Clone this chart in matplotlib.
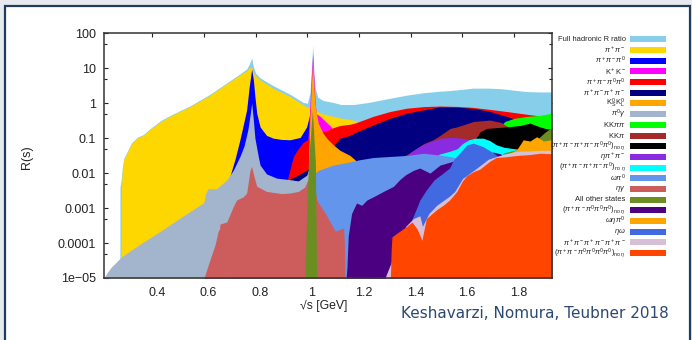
import matplotlib
matplotlib.use('Agg')
import matplotlib.pyplot as plt
from matplotlib.patches import Rectangle
from matplotlib.ticker import LogLocator, NullFormatter
from matplotlib.transforms import ScaledTranslation

plt.rcParams['font.family'] = ['Liberation Sans', 'DejaVu Sans']
plt.rcParams['mathtext.fontset'] = 'custom'
plt.rcParams['mathtext.rm'] = 'Liberation Sans'
plt.rcParams['mathtext.it'] = 'Liberation Sans:italic'
plt.rcParams['mathtext.bf'] = 'Liberation Sans:bold'

# upper edge of each stacked channel (sqrt(s) in GeV, R)
full_x = [0.2745, 0.275, 0.279, 0.281, 0.284, 0.29, 0.30, 0.31, 0.32, 0.345, 0.364, 0.40, 0.436, 0.475,
          0.546, 0.623, 0.688, 0.739, 0.765, 0.775, 0.7845, 0.791, 0.80, 0.817, 0.867, 0.933, 0.984,
          1.00, 1.01, 1.015, 1.0205, 1.025, 1.03, 1.04, 1.06, 1.10, 1.13, 1.18, 1.236, 1.30, 1.384,
          1.45, 1.51, 1.55, 1.60, 1.64, 1.70, 1.75, 1.80, 1.85, 1.90, 1.945]
full_R = [1e-5, 0.004, 0.006, 0.008, 0.014, 0.027, 0.037, 0.053, 0.074, 0.11, 0.125, 0.21, 0.33, 0.47,
          0.84, 1.8, 3.8, 6.9, 9.5, 13, 19.5, 11, 7.2, 5.3, 3.2, 1.8, 1.05,
          1.0, 2.0, 8, 46, 8, 2.8, 1.5, 1.2, 1.05, 0.92, 0.92, 1.05, 1.3, 1.7,
          2.0, 2.2, 2.3, 2.5, 2.7, 2.7, 2.6, 2.35, 2.15, 2.1, 2.1]

pipi_x = [0.279, 0.2795, 0.281, 0.284, 0.29, 0.30, 0.31, 0.32, 0.345, 0.364, 0.40, 0.436, 0.475, 0.546,
          0.623, 0.688, 0.739, 0.765, 0.778, 0.7845, 0.791, 0.797, 0.817, 0.867, 0.933, 0.984, 1.002,
          1.015, 1.0205, 1.025, 1.036, 1.05, 1.10, 1.126, 1.177, 1.19, 1.20, 1.22]
pipi_R = [1e-5, 0.0005, 0.004, 0.013, 0.025, 0.035, 0.05, 0.07, 0.105, 0.12, 0.2, 0.31, 0.45, 0.8,
          1.7, 3.6, 6.5, 8.5, 10.5, 10.5, 8, 6.4, 4.6, 2.7, 1.55, 0.89, 0.75,
          0.9, 1.0, 0.8, 0.6, 0.52, 0.42, 0.38, 0.33, 0.29, 0.2, 0.05]

pi3_x = [0.60, 0.68, 0.70, 0.72, 0.739, 0.755, 0.765, 0.775, 0.7845, 0.791, 0.797, 0.804, 0.817, 0.842,
         0.868, 0.90, 0.933, 0.972, 0.997, 1.01, 1.0205, 1.03, 1.04, 1.06, 1.08]
pi3_R = [1e-5, 0.003, 0.008, 0.025, 0.09, 0.3, 0.65, 3.0, 9.5, 4.6, 1.55, 0.52, 0.21, 0.12,
         0.10, 0.092, 0.09, 0.105, 0.21, 0.5, 2.0, 0.3, 0.15, 0.08, 0.03]

kk_x = [0.988, 1.0, 1.008, 1.014, 1.0205, 1.026, 1.03, 1.035, 1.05, 1.07, 1.09, 1.10, 1.13, 1.15]
kk_R = [1e-5, 0.05, 0.5, 4, 27, 4, 1.0, 0.5, 0.42, 0.3, 0.22, 0.17, 0.1, 0.05]

pp00_x = [0.60, 0.85, 0.90, 0.915, 0.92, 0.933, 0.946, 0.96, 0.983, 1.01, 1.05, 1.075, 1.10, 1.126,
          1.165, 1.19, 1.254, 1.32, 1.384, 1.45, 1.51, 1.58, 1.64, 1.71, 1.77, 1.87, 1.945]
pp00_R = [1e-5, 0.0015, 0.003, 0.0042, 0.0055, 0.013, 0.03, 0.045, 0.075, 0.1, 0.14, 0.165, 0.2, 0.23,
          0.25, 0.28, 0.42, 0.58, 0.72, 0.8, 0.83, 0.81, 0.76, 0.66, 0.58, 0.46, 0.4]

pppp_x = [0.70, 0.90, 0.92, 0.933, 0.96, 0.997, 1.03, 1.07, 1.10, 1.126, 1.165, 1.19, 1.255, 1.32,
          1.384, 1.447, 1.51, 1.58, 1.642, 1.706, 1.771, 1.83, 1.945]
pppp_R = [1e-5, 0.003, 0.004, 0.0068, 0.0085, 0.012, 0.02, 0.035, 0.06, 0.1, 0.12, 0.15, 0.24, 0.37,
          0.52, 0.64, 0.78, 0.77, 0.71, 0.58, 0.42, 0.3, 0.2]

kskl_x = [0.995, 1.005, 1.010, 1.015, 1.0205, 1.025, 1.028, 1.032, 1.042, 1.06, 1.08, 1.10, 1.126,
          1.165, 1.19, 1.22, 1.25]
kskl_R = [1e-5, 0.03, 0.4, 3, 15.5, 3, 1.2, 0.7, 0.27, 0.14, 0.09, 0.065, 0.045,
          0.032, 0.022, 0.015, 0.01]

pi0g_x = [0.2132, 0.225, 0.24, 0.26, 0.28, 0.35, 0.44, 0.52, 0.597, 0.601, 0.605, 0.616, 0.649, 0.688,
          0.713, 0.739, 0.755, 0.77, 0.778, 0.7845, 0.79, 0.797, 0.81, 0.817, 0.842, 0.881, 0.933,
          0.965, 0.997, 1.01, 1.02, 1.03, 1.05]
pi0g_R = [1e-5, 1.4e-5, 2e-5, 2.8e-5, 4e-5, 9e-5, 2.4e-4, 6e-4, 0.0014, 0.0016, 0.0025, 0.0036, 0.0036, 0.0064,
          0.012, 0.03, 0.06, 0.18, 0.45, 1.0, 0.4, 0.1, 0.03, 0.017, 0.0095, 0.0072, 0.0065,
          0.006, 0.0087, 0.016, 0.04, 0.01, 1e-5]

kkpipi_x = [1.60, 1.70, 1.74, 1.764, 1.80, 1.85, 1.90, 1.945]
kkpipi_R = [0.01, 0.1, 0.2, 0.3, 0.37, 0.42, 0.45, 0.52]

kkpi_x = [1.30, 1.40, 1.45, 1.486, 1.513, 1.552, 1.578, 1.61, 1.642, 1.706, 1.75, 1.78, 1.85, 1.945]
kkpi_R = [0.015, 0.04, 0.07, 0.09, 0.12, 0.19, 0.21, 0.25, 0.3, 0.33, 0.28, 0.2, 0.18, 0.15]

p6_x = [1.60, 1.64, 1.66, 1.667, 1.693, 1.771, 1.822, 1.861, 1.90, 1.92, 1.945]
p6_R = [0.04, 0.08, 0.12, 0.15, 0.19, 0.21, 0.23, 0.27, 0.21, 0.19, 0.18]

etapp_x = [1.28, 1.37, 1.40, 1.445, 1.513, 1.56, 1.60, 1.63, 1.65, 1.70, 1.80, 1.945]
etapp_R = [0.01, 0.025, 0.04, 0.065, 0.1, 0.105, 0.1, 0.09, 0.07, 0.04, 0.025, 0.02]

p5_x = [1.45, 1.49, 1.51, 1.55, 1.58, 1.60, 1.625, 1.65, 1.68, 1.706, 1.73, 1.76, 1.80, 1.945]
p5_R = [0.01, 0.025, 0.035, 0.042, 0.05, 0.07, 0.09, 0.1, 0.1, 0.085, 0.065, 0.055, 0.05, 0.04]

wpi0_x = [0.90, 1.0, 1.02, 1.03, 1.042, 1.10, 1.165, 1.20, 1.255, 1.32, 1.384, 1.45, 1.51, 1.55,
          1.60, 1.70, 1.80, 1.945]
wpi0_R = [0.0005, 0.002, 0.005, 0.01, 0.012, 0.017, 0.021, 0.024, 0.028, 0.03, 0.032, 0.037, 0.033, 0.03,
          0.025, 0.02, 0.015, 0.012]

etag_x = [0.600, 0.623, 0.643, 0.655, 0.660, 0.662, 0.688, 0.713, 0.726, 0.752, 0.765, 0.772, 0.778,
          0.7845, 0.79, 0.804, 0.842, 0.87, 0.90, 0.933, 0.965, 0.99, 1.0, 1.02, 1.036, 1.075, 1.107,
          1.14, 1.143, 1.145]
etag_R = [1e-5, 3.3e-5, 9e-5, 0.00022, 0.00025, 0.00035, 0.0004, 0.0011, 0.0017, 0.0021, 0.0027, 0.006, 0.012,
          0.0155, 0.01, 0.0042, 0.003, 0.0028, 0.0026, 0.0027, 0.003, 0.004, 0.006, 0.01, 0.0017, 0.0006, 0.00022,
          0.00027, 0.0001, 1e-5]

other_x = [0.991, 0.997, 1.004, 1.010, 1.016, 1.019, 1.022, 1.026, 1.031, 1.033, 1.036, 1.70, 1.72,
           1.76, 1.80, 1.85, 1.88, 1.90, 1.92, 1.945]
other_R = [1e-5, 6e-4, 0.02, 0.08, 0.3, 0.6, 0.3, 0.08, 0.02, 6e-4, 1e-5, 1e-5, 0.02,
           0.038, 0.045, 0.055, 0.08, 0.11, 0.15, 0.2]

p5n_x = [1.150, 1.153, 1.158, 1.171, 1.19, 1.21, 1.23, 1.26, 1.294, 1.333, 1.358, 1.38, 1.41, 1.435,
         1.474, 1.513, 1.565, 1.60, 1.65, 1.72, 1.75, 1.77, 1.80, 1.945]
p5n_R = [1e-5, 2e-5, 0.00016, 0.0007, 0.0014, 0.0012, 0.0017, 0.0022, 0.003, 0.0042, 0.0066, 0.009, 0.012, 0.014,
         0.01, 0.017, 0.022, 0.025, 0.03, 0.04, 0.035, 0.02, 0.018, 0.015]

wetapi_x = [1.70, 1.75, 1.771, 1.81, 1.835, 1.861, 1.887, 1.913, 1.945]
wetapi_R = [0.01, 0.025, 0.033, 0.047, 0.09, 0.083, 0.11, 0.083, 0.09]

etaw_x = [1.35, 1.40, 1.42, 1.435, 1.46, 1.49, 1.525, 1.55, 1.565, 1.59, 1.617, 1.642, 1.68, 1.719,
          1.738, 1.76, 1.80, 1.945]
etaw_R = [1e-4, 0.0004, 0.0009, 0.0017, 0.0033, 0.0064, 0.01, 0.014, 0.024, 0.038, 0.064, 0.072, 0.057, 0.038,
          0.03, 0.025, 0.02, 0.015]

p6c_x = [1.30, 1.38, 1.41, 1.435, 1.445, 1.47, 1.50, 1.55, 1.57, 1.60, 1.65, 1.70, 1.76, 1.81, 1.86,
         1.90, 1.945]
p6c_R = [1e-5, 0.0003, 0.0005, 0.0006, 0.0003, 0.0007, 0.0012, 0.0022, 0.003, 0.007, 0.013, 0.025, 0.035, 0.042, 0.043,
         0.045, 0.045]

p6n_x = [1.321, 1.324, 1.327, 1.35, 1.384, 1.405, 1.425, 1.443, 1.46, 1.50, 1.525, 1.55, 1.578, 1.60,
         1.617, 1.642, 1.667, 1.706, 1.73, 1.76, 1.81, 1.86, 1.90, 1.945]
p6n_R = [1e-5, 6e-5, 0.00015, 0.0002, 0.0003, 0.0004, 0.00025, 0.00012, 0.0005, 0.0009, 0.0012, 0.0017, 0.003, 0.006,
         0.0085, 0.011, 0.013, 0.022, 0.028, 0.029, 0.032, 0.034, 0.037, 0.036]

labels = ['Full hadronic R ratio', r'$\pi^+\pi^-$', r'$\pi^+\pi^-\pi^0$', r'$\mathrm{K}^+\mathrm{K}^-$',
          r'$\pi^+\pi^-\pi^0\pi^0$', r'$\pi^+\pi^-\pi^+\pi^-$', r'$\mathrm{K}^0_\mathrm{S}\,\mathrm{K}^0_\mathrm{L}$',
          r'$\pi^0\gamma$', r'$\mathrm{KK}\pi\pi$', r'$\mathrm{KK}\pi$',
          r'$(\pi^+\pi^-\pi^+\pi^-\pi^0\pi^0)_{\mathrm{no}\ \eta}$', r'$\eta\pi^+\pi^-$',
          r'$(\pi^+\pi^-\pi^+\pi^-\pi^0)_{\mathrm{no}\ \eta}$', r'$\omega\pi^0$', r'$\eta\gamma$',
          'All other states', r'$(\pi^+\pi^-\pi^0\pi^0\pi^0)_{\mathrm{no}\ \eta}$', r'$\omega\eta\pi^0$',
          r'$\eta\omega$', r'$\pi^+\pi^-\pi^+\pi^-\pi^+\pi^-$',
          r'$(\pi^+\pi^-\pi^0\pi^0\pi^0\pi^0)_{\mathrm{no}\ \eta}$']
colors = ['#87ceeb', '#ffd700', '#0000ff', '#ff00ff', '#ff0000', '#000080', '#ffa500', '#a2b5cd',
          '#00ff00', '#a52a2a', '#000000', '#8a2be2', '#00ffff', '#6495ed', '#cd5c5c', '#6b8e23',
          '#4b0082', '#ffa500', '#4169e1', '#d8bfd8', '#ff4500']
curves = [(full_x, full_R), (pipi_x, pipi_R), (pi3_x, pi3_R), (kk_x, kk_R), (pp00_x, pp00_R),
          (pppp_x, pppp_R), (kskl_x, kskl_R), (pi0g_x, pi0g_R), (kkpipi_x, kkpipi_R), (kkpi_x, kkpi_R),
          (p6_x, p6_R), (etapp_x, etapp_R), (p5_x, p5_R), (wpi0_x, wpi0_R), (etag_x, etag_R),
          (other_x, other_R), (p5n_x, p5n_R), (wetapi_x, wetapi_R), (etaw_x, etaw_R), (p6c_x, p6c_R),
          (p6n_x, p6n_R)]

W, H = 692, 340
fig = plt.figure(figsize=(W / 100, H / 100), dpi=100)
fig.patch.set_facecolor('#e7ebef')
fig.add_artist(Rectangle((5 / W, -0.1), 684.5 / W, 1.1 - 6 / H, transform=fig.transFigure,
                         facecolor='white', edgecolor='#213d5e', lw=1.6, zorder=0))

ax = fig.add_axes([104 / W, 62 / H, 447.5 / W, 244.7 / H])
ax.set_facecolor('white')
ax.set_axisbelow(True)
for (cx, cy), col in zip(curves, colors):
    ax.fill_between(cx, 1e-5, cy, color=col, lw=0)

ax.set_yscale('log')
ax.set_xlim(0.2132, 1.9443)
ax.set_ylim(1e-5, 100)
ax.set_xticks([0.4, 0.6, 0.8, 1.0, 1.2, 1.4, 1.6, 1.8])
ax.set_xticklabels(['0.4', '0.6', '0.8', '1', '1.2', '1.4', '1.6', '1.8'])
ax.set_yticks([1e-5, 1e-4, 1e-3, 1e-2, 0.1, 1, 10, 100])
ax.set_yticklabels(['1e\u221205', '0.0001', '0.001', '0.01', '0.1', '1', '10', '100'])
ax.yaxis.set_minor_locator(LogLocator(base=10, subs=[5]))
ax.yaxis.set_minor_formatter(NullFormatter())
ax.tick_params(which='both', direction='in', top=True, right=True, labelsize=9, colors='#222222')
ax.tick_params(which='major', length=3.2, width=0.8)
ax.tick_params(which='minor', length=2.0, width=0.8)
ax.tick_params(axis='x', pad=6.5)
ax.tick_params(axis='y', pad=5.5)
shift = ScaledTranslation(4.5 / 100, 0, fig.dpi_scale_trans)
for lab in ax.get_xticklabels():
    lab.set_transform(lab.get_transform() + shift)
for sp in ax.spines.values():
    sp.set_color('#333333')
    sp.set_linewidth(1.1)
    sp.set_zorder(5)

fig.text(27.5 / W, 1 - 157 / H, 'R(s)', rotation=90, ha='center', va='center', fontsize=9, color='#222222')
fig.text(323.5 / W, 1 - 306 / H, '\u221as [GeV]', ha='center', va='center', fontsize=8.8, color='#222222')

# legend on the right
for i, (lab, col) in enumerate(zip(labels, colors)):
    yc = 39.3 + i * 10.69
    fig.text(625.5 / W, 1 - yc / H, lab, ha='right', va='center', fontsize=5.4, color='#222222')
    fig.add_artist(Rectangle((630 / W, 1 - (yc + 3) / H), 36 / W, 6 / H, transform=fig.transFigure,
                             facecolor=col, lw=0))

fig.text(535 / W, 1 - 314 / H, 'Keshavarzi, Nomura, Teubner 2018', ha='center', va='center',
         fontsize=11, color='#2c4870', family='DejaVu Sans')

fig.savefig('out.png', dpi=100, facecolor=fig.get_facecolor())
